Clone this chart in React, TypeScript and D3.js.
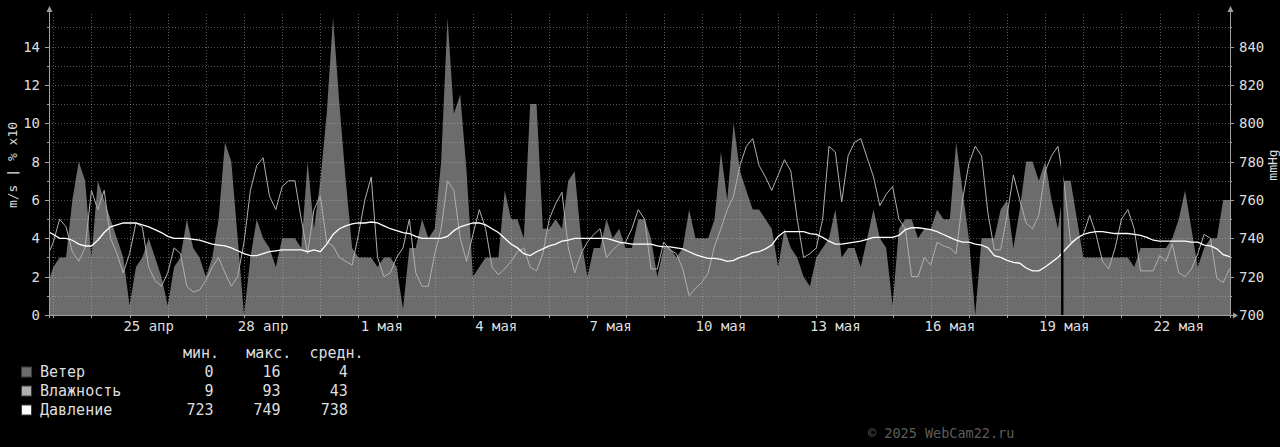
import React from 'react';
import * as d3 from 'd3';

// samples every 4 hours, starting 22 апр 20:00 (one row = one day from 00:00)
const windSpeed = [
  1.5,
  2.5, 3, 3, 6, 8, 7,
  3, 7, 6, 5, 4, 3,
  0.5, 2.5, 3, 4, 3, 2,
  0.5, 2.5, 3, 5, 3.5, 3,
  2, 3, 5, 9, 8, 4,
  0, 3, 5, 4, 3.5, 2.5,
  4, 4, 4, 3.5, 8, 4.5,
  7, 10.5, 15.5, 11, 7, 3.5,
  3, 3, 3, 2.5, 3, 3,
  2.5, 0.3, 3.5, 3.5, 5, 4,
  4.5, 8, 15.5, 10.5, 11.5, 7.5,
  2, 2.5, 3, 3, 3, 6.5,
  5, 5, 4, 11, 11, 4.5,
  4.5, 5, 4.5, 7, 7.5, 4,
  2, 3.5, 3.5, 5, 4, 4.5,
  3.5, 3.5, 5, 5, 4, 2,
  3.5, 3.5, 3, 3.5, 5.5, 4,
  4, 4, 5, 8.5, 6, 10,
  7.5, 6.5, 5.5, 5.5, 5, 4.5,
  2.5, 4.5, 3.5, 3, 2, 1.5,
  3, 3.5, 4, 5.5, 3, 3.5,
  3.5, 2.5, 4, 5.5, 4, 3.5,
  0.5, 4.5, 5, 5, 4, 4.5,
  4.5, 5.5, 5, 5, 9, 6.5,
  4, 0, 4, 4, 4, 5.5,
  6, 3.5, 5.5, 8, 8, 7,
  8, 6, 4.5, 7, 7, 5,
  3, 3, 3, 3, 3, 3,
  3, 3, 2.5, 3.5, 3.5, 3.5,
  3.5, 3.5, 4, 5, 6.5, 4.5,
  2.5, 3.5, 4, 4, 6, 6,
  6,
];

const humidity = [
  30,
  38, 50, 46, 33, 28, 35,
  65, 55, 65, 40, 32, 22,
  32, 48, 46, 25, 18, 15,
  22, 35, 32, 15, 12, 13,
  18, 25, 30, 22, 15, 20,
  38, 65, 78, 82, 62, 55,
  67, 70, 70, 50, 32, 55,
  62, 38, 36, 30, 28, 26,
  42, 60, 72, 30, 20, 22,
  30, 35, 50, 22, 15, 15,
  32, 45, 70, 65, 40, 28,
  42, 55, 45, 25, 21, 24,
  28, 33, 35, 25, 23, 32,
  50, 58, 64, 35, 22, 32,
  38, 42, 45, 30, 34, 37,
  38, 45, 55, 50, 24, 24,
  38, 34, 32, 24, 10, 14,
  17, 22, 36, 45, 55, 62,
  78, 88, 92, 78, 72, 65,
  73, 81, 75, 50, 30, 32,
  35, 50, 88, 85, 59, 83,
  90, 92, 82, 72, 57, 63,
  67, 50, 45, 20, 20, 30,
  26, 38, 36, 35, 32, 60,
  79, 88, 83, 53, 34, 34,
  52, 73, 60, 48, 45, 52,
  75, 83, 88, 68, 38, 40,
  42, 52, 42, 28, 24, 35,
  50, 55, 45, 23, 23, 23,
  31, 28, 37, 22, 20, 24,
  32, 42, 40, 19, 17, 24,
  24,
];

const pressure = [
  744,
  742, 740, 740, 739, 737, 736,
  736, 739, 743, 746, 747, 748,
  748, 748, 747, 746, 744.5, 743,
  741, 740, 740, 740, 739.5, 739,
  738, 737, 736.5, 736, 735, 733.5,
  732, 731, 731, 732, 733, 733.5,
  734, 734, 734, 734, 733, 734,
  733, 737, 742, 745, 746.5, 747.5,
  748, 748, 748.5, 748, 746.5, 745,
  744, 743, 742.5, 741, 740, 740,
  740, 740, 741, 744, 746, 747,
  748, 748, 747, 745, 743, 740,
  737, 735, 732, 731, 733, 734.5,
  736, 737, 738.5, 739, 740, 740,
  740, 740, 740, 740, 739, 738,
  737.5, 737, 737, 737, 737, 736,
  735.5, 735.5, 735, 734.5, 733, 731.5,
  730.5, 729.5, 729.5, 729, 728, 728.5,
  730, 731, 732.5, 733, 734.5, 736.5,
  741, 743.5, 743.5, 743.5, 743.5, 742.5,
  742, 740.5, 738.5, 737, 737, 737.5,
  738, 738.5, 739.5, 740.5, 740.5, 740.5,
  740.5, 741.5, 744.5, 745.5, 745.5, 745,
  744.5, 743.5, 742, 740.5, 739, 738,
  738, 737, 736.5, 735, 731, 730,
  728.5, 727.5, 727, 724.5, 723, 723,
  725, 727.5, 730, 733.5, 737, 740,
  742, 743, 743.5, 743.5, 743, 742.5,
  742.5, 742.5, 742, 741.5, 740.5, 739,
  738.5, 738.5, 738.5, 738.5, 738.5, 738,
  738, 736.5, 736, 734.5, 731.5, 730.5,
  730,
];

// no data here
const gapFrom = ['2025-05-19T10:00'];
const gapTo = ['2025-05-19T11:30'];

const leftTicks = [0, 2, 4, 6, 8, 10, 12, 14];
const rightTicks = [700, 720, 740, 760, 780, 800, 820, 840];
const dateLabels = [
  '2025-04-25T12:00', '2025-04-28T12:00', '2025-05-01T12:00', '2025-05-04T12:00', '2025-05-07T12:00',
  '2025-05-10T12:00', '2025-05-13T12:00', '2025-05-16T12:00', '2025-05-19T12:00', '2025-05-22T12:00',
];

const legendNames = ['Ветер', 'Влажность', 'Давление'];
const legendMin = [0, 9, 723];
const legendMax = [16, 93, 749];
const legendAvg = [4, 43, 738];

const ru = d3.timeFormatLocale({
  dateTime: '%A, %e %B %Y г. %X',
  date: '%d.%m.%Y',
  time: '%H:%M:%S',
  periods: ['AM', 'PM'],
  days: ['воскресенье', 'понедельник', 'вторник', 'среда', 'четверг', 'пятница', 'суббота'],
  shortDays: ['вс', 'пн', 'вт', 'ср', 'чт', 'пт', 'сб'],
  months: ['января', 'февраля', 'марта', 'апреля', 'мая', 'июня', 'июля', 'августа', 'сентября', 'октября', 'ноября', 'декабря'],
  shortMonths: ['янв', 'фев', 'мар', 'апр', 'мая', 'июн', 'июл', 'авг', 'сен', 'окт', 'ноя', 'дек'],
});
const fmtDay = ru.format('%e %b');

const FONT = '"DejaVu Sans Mono", monospace';
const COL = {
  wind: '#6c6c6c',
  hum: '#b0b0b0',
  press: '#ffffff',
  text: '#dedede',
  axis: '#a0a0a0',
  grid: 'rgba(200,200,200,0.42)',
  copy: '#5c5c5c',
};
const legendColors = [COL.wind, COL.hum, COL.press];

const L = 49, R = 1230, T = 14, B = 315;

export default function App() {
  const tAt = (i: number) => new Date(2025, 3, 22, 20 + 4 * i);

  const x = d3.scaleTime()
    .domain([new Date(2025, 3, 22, 21, 18), new Date(2025, 4, 23, 20, 16)])
    .range([L, R]);
  const y = d3.scaleLinear().domain([0, 15.7]).range([B, T]);
  const yR = d3.scaleLinear().domain([700, 857]).range([B, T]);

  const wind = windSpeed.map((v, i) => ({ t: tAt(i), v }));
  const hum = humidity.map((v, i) => ({ t: tAt(i), v }));
  const pres = pressure.map((v, i) => ({ t: tAt(i), v }));

  const area = d3.area<any>().x(d => x(d.t)).y0(y(0)).y1(d => y(d.v));
  const humLine = d3.line<any>().x(d => x(d.t)).y(d => y(d.v / 10));
  const presLine = d3.line<any>().x(d => x(d.t)).y(d => yR(d.v));

  const days = d3.timeDay.range(new Date(2025, 3, 23), new Date(2025, 4, 24));
  const minorY = d3.range(1, 16);

  return (
    <svg width={1280} height={447} style={{ position: 'absolute', left: 0, top: 0, background: '#000' }}
      fontFamily={FONT}>
      <rect x={0} y={0} width={1280} height={447} fill="#000" />
      <defs>
        <clipPath id="plot"><rect x={L} y={T} width={R - L} height={B - T} /></clipPath>
      </defs>

      <g clipPath="url(#plot)">
        <path d={area(wind) || ''} fill={COL.wind} />
      </g>

      {/* grid */}
      <g stroke={COL.grid} strokeDasharray="1,2" strokeWidth={1}>
        {minorY.map(v => (
          <line key={'h' + v} x1={L} x2={R} y1={Math.round(y(v)) + 0.5} y2={Math.round(y(v)) + 0.5} />
        ))}
        {days.map(d => (
          <line key={'v' + +d} x1={Math.round(x(d)) + 0.5} x2={Math.round(x(d)) + 0.5} y1={T} y2={B} />
        ))}
      </g>

      <g clipPath="url(#plot)" fill="none">
        <path d={humLine(hum) || ''} stroke={COL.hum} strokeWidth={1} />
        <path d={presLine(pres) || ''} stroke={COL.press} strokeWidth={1.3} />
        {gapFrom.map((g, i) => (
          <rect key={g} x={x(new Date(g))} y={T} width={x(new Date(gapTo[i])) - x(new Date(g))} height={B - T} fill="#000" />
        ))}
      </g>

      {/* axes */}
      <g stroke={COL.axis} strokeWidth={1}>
        <line x1={L + 0.5} x2={L + 0.5} y1={B + 3} y2={11} />
        <line x1={R + 0.5} x2={R + 0.5} y1={B + 3} y2={11} />
        <line x1={L - 4} x2={R + 3} y1={B + 0.5} y2={B + 0.5} />
        {minorY.concat([0]).map(v => (
          <g key={'t' + v}>
            <line x1={v % 2 === 0 ? L - 4 : L - 2} x2={L} y1={Math.round(y(v)) + 0.5} y2={Math.round(y(v)) + 0.5} />
            <line x1={R} x2={v % 2 === 0 ? R + 4 : R + 2} y1={Math.round(y(v)) + 0.5} y2={Math.round(y(v)) + 0.5} />
          </g>
        ))}
        {days.map(d => (
          <line key={'bt' + +d} x1={Math.round(x(d)) + 0.5} x2={Math.round(x(d)) + 0.5} y1={B} y2={B + 3} />
        ))}
      </g>
      <g fill={COL.axis}>
        <path d={`M${L - 2.5},12 L${L + 3.5},12 L${L + 0.5},6 Z`} />
        <path d={`M${R - 2.5},12 L${R + 3.5},12 L${R + 0.5},6 Z`} />
        <path d={`M${R + 3},${B - 2.5} L${R + 3},${B + 3.5} L${R + 8},${B + 0.5} Z`} />
      </g>

      {/* tick labels */}
      <g fill={COL.text} fontSize={14}>
        {leftTicks.map(v => (
          <text key={'l' + v} x={40} y={y(v)} textAnchor="end" dominantBaseline="central">{v}</text>
        ))}
        {rightTicks.map(v => (
          <text key={'r' + v} x={1239} y={yR(v)} dominantBaseline="central">{v}</text>
        ))}
        {dateLabels.map(s => (
          <text key={s} x={x(new Date(s))} y={331} textAnchor="middle" style={{ whiteSpace: 'pre' }}>{fmtDay(new Date(s))}</text>
        ))}
      </g>
      <g fill={COL.text} fontSize={13}>
        <text transform="translate(12,165) rotate(-90)" textAnchor="middle" dominantBaseline="central">m/s | % x10</text>
        <text transform="translate(1272,165) rotate(-90)" textAnchor="middle" dominantBaseline="central">mmHg</text>
      </g>

      {/* legend */}
      <g fill={COL.text} fontSize={15}>
        <text x={183} y={357.5} style={{ whiteSpace: 'pre' }}>{'мин.   макс.  средн.'}</text>
        {legendNames.map((n, i) => {
          const by = 376.5 + i * 19;
          return (
            <g key={n}>
              <rect x={21.5} y={by - 9.5} width={10} height={10} fill={legendColors[i]} stroke="#3a3a3a" />
              <text x={40} y={by}>{n}</text>
              <text x={213.5} y={by} textAnchor="end">{legendMin[i]}</text>
              <text x={280.5} y={by} textAnchor="end">{legendMax[i]}</text>
              <text x={347.8} y={by} textAnchor="end">{legendAvg[i]}</text>
            </g>
          );
        })}
      </g>

      <text x={868} y={437.5} fill={COL.copy} fontSize={13.5}>© 2025 WebCam22.ru</text>
    </svg>
  );
}
